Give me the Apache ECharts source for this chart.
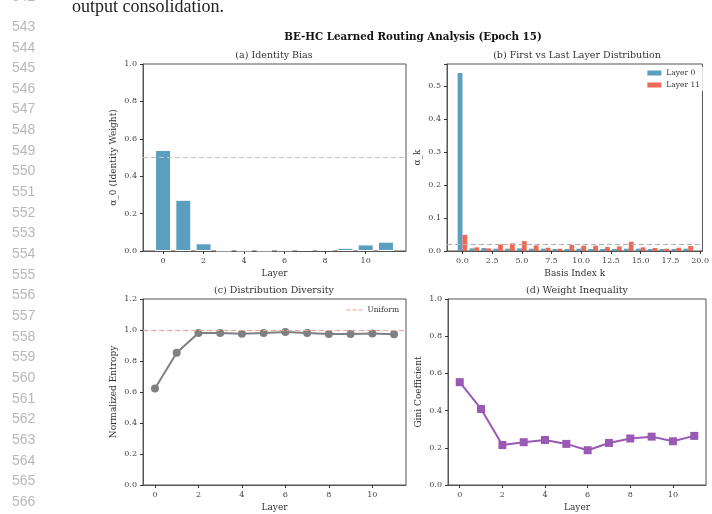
<!DOCTYPE html>
<html>
<head>
<meta charset="utf-8">
<script src="https://cdn.jsdelivr.net/npm/echarts@6/dist/echarts.min.js"></script>
<style>
  html, body { margin: 0; padding: 0; background: #fff; }
  #main { width: 712px; height: 514px; }
</style>
</head>
<body>
<div id="main"></div>
<script>
// ---- data ----
var layers = [0, 1, 2, 3, 4, 5, 6, 7, 8, 9, 10, 11];
var identityWeight = [0.540, 0.274, 0.041, 0.003, 0.003, 0.003, 0.004, 0.006, 0.009, 0.017, 0.035, 0.050];
var identityRef = 0.5;

var basisIdx = [0, 1, 2, 3, 4, 5, 6, 7, 8, 9, 10, 11, 12, 13, 14, 15, 16, 17, 18, 19];
var layer0Alpha = [0.540, 0.008, 0.009, 0.007, 0.007, 0.008, 0.007, 0.007, 0.006, 0.006,
                   0.007, 0.006, 0.006, 0.006, 0.007, 0.007, 0.006, 0.006, 0.006, 0.007];
var layer11Alpha = [0.049, 0.011, 0.008, 0.020, 0.023, 0.030, 0.017, 0.010, 0.007, 0.018,
                    0.016, 0.016, 0.012, 0.014, 0.028, 0.011, 0.009, 0.007, 0.010, 0.015];
var uniformAlpha = 0.0155;

var entropy = [0.623, 0.853, 0.981, 0.981, 0.976, 0.981, 0.987, 0.981, 0.974, 0.974, 0.978, 0.972];
var uniformEntropy = 1.0;

var gini = [0.553, 0.409, 0.215, 0.230, 0.242, 0.221, 0.187, 0.226, 0.250, 0.260, 0.235, 0.264];

// line numbers in the page margin
var lineNumbers = [];
for (var n = 543; n <= 566; n++) lineNumbers.push(n);

// ---- helpers ----
var serif = 'DejaVu Serif';
var tickColor = '#333';

function pairs(xs, ys) {
	return xs.map(function (x, i) { return [x, ys[i]]; });
}

function xAxisFor(gi, min, max, step, name, digits) {
	return {
		type: 'value', gridIndex: gi, min: min, max: max,
		minInterval: step, maxInterval: step,
		name: name, nameLocation: 'middle', nameGap: 18,
		nameTextStyle: { fontFamily: serif, fontSize: 9, color: '#333' },
		axisLine: { show: true, onZero: false, lineStyle: { color: '#555', width: 1 } },
		axisTick: { show: true, length: 3, lineStyle: { color: tickColor } },
		axisLabel: {
			fontFamily: serif, fontSize: 8, color: '#444', margin: 6,
			showMinLabel: false, showMaxLabel: false,
			formatter: function (v) { return digits ? v.toFixed(digits) : String(v); }
		},
		splitLine: { show: false }
	};
}

function yAxisFor(gi, max, step, name, nameGap) {
	return {
		type: 'value', gridIndex: gi, min: 0, max: max, interval: step,
		name: name, nameLocation: 'middle', nameGap: nameGap, nameRotate: 90,
		nameTextStyle: { fontFamily: serif, fontSize: 9, color: '#333' },
		axisLine: { show: true, onZero: false, lineStyle: { color: '#555', width: 1 } },
		axisTick: { show: true, length: 3, lineStyle: { color: tickColor } },
		axisLabel: {
			fontFamily: serif, fontSize: 8, color: '#444', margin: 6,
			formatter: function (v) {
				// the top edge of panel (b) is not a tick
				return (Math.abs(v / step - Math.round(v / step)) > 1e-6) ? '' : v.toFixed(1);
			}
		},
		splitLine: { show: false }
	};
}

function dashed(value, color) {
	return {
		silent: true, symbol: 'none', label: { show: false },
		lineStyle: { type: [5, 3], color: color, width: 1 },
		data: [{ yAxis: value }]
	};
}

// ---- page decoration (line numbers, running text, titles) ----
var graphics = lineNumbers.map(function (num, i) {
	return {
		type: 'text', x: 12, y: 27 + i * 20.65,
		style: { text: String(num), fontFamily: 'Liberation Sans', fontSize: 14, fill: '#b8b8b8', verticalAlign: 'middle' }
	};
});
graphics.push({
	type: 'text', x: 12, y: -3,
	style: { text: '542', fontFamily: 'Liberation Sans', fontSize: 14, fill: '#b8b8b8', verticalAlign: 'middle' }
});
graphics.push({
	type: 'text', x: 72, y: 7,
	style: { text: 'output consolidation.', fontFamily: 'Liberation Serif', fontSize: 18, fill: '#222', verticalAlign: 'middle' }
});
graphics.push({
	type: 'text', x: 413, y: 37, style: {
		text: 'BE-HC Learned Routing Analysis (Epoch 15)', fontFamily: serif, fontSize: 10.3,
		fontWeight: 'bold', fill: '#111', align: 'center', verticalAlign: 'middle'
	}
});

var subTitles = [
	['(a) Identity Bias', 274, 56], ['(b) First vs Last Layer Distribution', 577, 56],
	['(c) Distribution Diversity', 274, 291], ['(d) Weight Inequality', 577, 291]
];
subTitles.forEach(function (t) {
	graphics.push({
		type: 'text', x: t[1], y: t[2],
		style: { text: t[0], fontFamily: serif, fontSize: 9.5, fill: '#333', align: 'center', verticalAlign: 'middle' }
	});
});

var chart = echarts.init(document.getElementById('main'), null, { renderer: 'canvas' });

chart.setOption({
	backgroundColor: '#fff',
	animation: false,
	graphic: graphics,
	grid: [
		{ left: 143, top: 64, width: 263, height: 187, show: true, borderColor: '#555', borderWidth: 1 },
		{ left: 447, top: 64, width: 259, height: 187, show: true, borderColor: '#555', borderWidth: 1 },
		{ left: 143, top: 299, width: 263, height: 186, show: true, borderColor: '#555', borderWidth: 1 },
		{ left: 448, top: 299, width: 258, height: 186, show: true, borderColor: '#555', borderWidth: 1 }
	],
	xAxis: [
		xAxisFor(0, -0.99, 11.99, 2, 'Layer', 0),
		xAxisFor(1, -1.3, 20.2, 2.5, 'Basis Index k', 1),
		xAxisFor(2, -0.55, 11.55, 2, 'Layer', 0),
		xAxisFor(3, -0.55, 11.55, 2, 'Layer', 0)
	],
	yAxis: [
		yAxisFor(0, 1.0, 0.2, 'α_0 (Identity Weight)', 25),
		yAxisFor(1, 0.567, 0.1, 'α_k', 25),
		yAxisFor(2, 1.2, 0.2, 'Normalized Entropy', 25),
		yAxisFor(3, 1.0, 0.2, 'Gini Coefficient', 25)
	],
	legend: [
		{
			data: ['Layer 0', 'Layer 11'], orient: 'vertical', right: 9, top: 67,
			icon: 'rect', itemWidth: 14, itemHeight: 5, itemGap: 4,
			textStyle: { fontFamily: serif, fontSize: 7.5, color: '#333' },
			backgroundColor: 'rgba(255,255,255,0.8)', padding: [2, 3]
		},
		{
			data: [{ name: 'Uniform', icon: 'path://M0,0h5v1h-5z M7,0h5v1h-5z M14,0h5v1h-5z' }],
			right: 310, top: 304,
			itemWidth: 16, itemHeight: 1.2,
			textStyle: { fontFamily: serif, fontSize: 7.5, color: '#333' },
			backgroundColor: 'rgba(255,255,255,0.8)', padding: [2, 3]
		}
	],
	series: [
		{
			type: 'bar', xAxisIndex: 0, yAxisIndex: 0, barWidth: 16,
			data: pairs(layers, identityWeight),
			itemStyle: { color: '#5a9fbf', borderColor: '#fff', borderWidth: 1 },
			markLine: dashed(identityRef, '#c4c4c4')
		},
		{
			name: 'Layer 0', type: 'bar', xAxisIndex: 1, yAxisIndex: 1, barWidth: 4.8, barGap: '0%',
			data: pairs(basisIdx, layer0Alpha),
			itemStyle: { color: '#5a9fbf' },
			markLine: dashed(uniformAlpha, '#b0b0b0')
		},
		{
			name: 'Layer 11', type: 'bar', xAxisIndex: 1, yAxisIndex: 1, barWidth: 4.8, barGap: '0%',
			data: pairs(basisIdx, layer11Alpha),
			itemStyle: { color: '#ec6a55' }
		},
		{
			type: 'line', xAxisIndex: 2, yAxisIndex: 2,
			data: pairs(layers, entropy),
			symbol: 'circle', symbolSize: 8,
			lineStyle: { color: '#808080', width: 2 },
			itemStyle: { color: '#808080' }
		},
		{
			name: 'Uniform', type: 'line', xAxisIndex: 2, yAxisIndex: 2, data: [],
			symbol: 'none',
			lineStyle: { color: '#f4a090', width: 1, type: [5, 3] },
			itemStyle: { color: '#f4a090' },
			markLine: dashed(uniformEntropy, '#f4a090')
		},
		{
			type: 'line', xAxisIndex: 3, yAxisIndex: 3,
			data: pairs(layers, gini),
			symbol: 'rect', symbolSize: 8,
			lineStyle: { color: '#9b59b6', width: 2 },
			itemStyle: { color: '#9b59b6' }
		}
	]
});
</script>
</body>
</html>
